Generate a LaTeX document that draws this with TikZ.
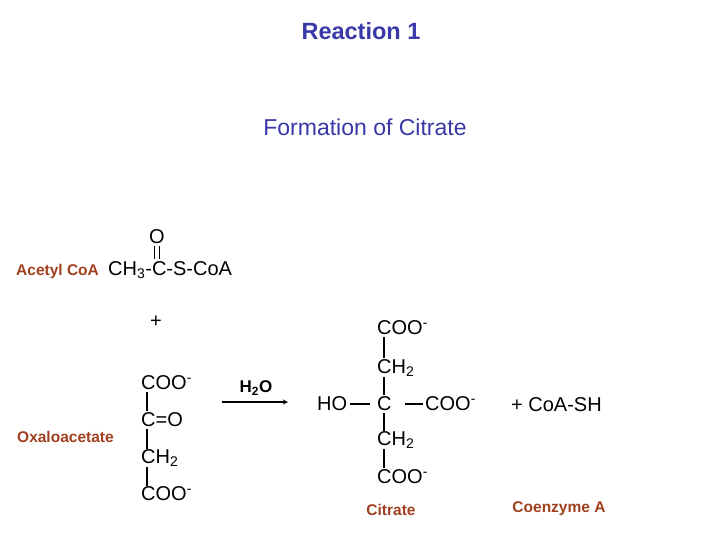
\documentclass[tikz,border=0pt]{standalone}
\usepackage{fontspec}
\setmainfont{Liberation Sans}
\definecolor{ttl}{HTML}{3838A8}
\definecolor{lbl}{HTML}{A0401E}
\begin{document}
\begin{tikzpicture}[x=1pt,y=-1pt,
  chem/.style={font=\fontsize{20}{22}\selectfont,inner sep=0pt,anchor=west},
  lab/.style={font=\fontsize{15.5}{17}\selectfont\bfseries,text=lbl,inner sep=0pt},
  bond/.style={line width=2.6pt}]
\useasboundingbox (0,0) rectangle (720,540);
\node[font=\fontsize{23.5}{26}\selectfont\bfseries,text=ttl] (t1) at (361,31) {Reaction 1};
\node[font=\fontsize{23}{26}\selectfont,text=ttl] (t2) at (365,127) {Formation of Citrate};
% acetyl CoA
\node[lab,anchor=west] (acl) at (16,271) {Acetyl CoA};
\node[chem] (ac) at (108,270) {CH\textsubscript{3}-C-S-CoA};
\node[chem,anchor=center] (o1) at (157,237) {O};
\draw[line width=1.8pt] (154.5,246) -- (154.5,259) (159.5,246) -- (159.5,259);
\node[chem,anchor=center] (plus) at (156,322) {+};
% oxaloacetate
\node[lab,anchor=west] (oxl) at (17,437) {Oxaloacetate};
\node[chem] (x1) at (141,383) {COO\textsuperscript{-}};
\node[chem] (x2) at (141,420) {C=O};
\node[chem] (x3) at (141,458) {CH\textsubscript{2}};
\node[chem] (x4) at (141,494) {COO\textsuperscript{-}};
\draw[bond] (147,392) -- (147,411) (147,429) -- (147,449) (147,467) -- (147,486);
% arrow
\node[font=\fontsize{17}{19}\selectfont\bfseries,inner sep=0pt] (w) at (256,388) {H\textsubscript{2}O};
\coordinate (a1) at (222,402); \coordinate (a2) at (288,402);
\draw[line width=1.3pt,-stealth] (a1) -- (a2);
% citrate
\node[chem] (c1) at (377,328) {COO\textsuperscript{-}};
\node[chem] (c2) at (377,368) {CH\textsubscript{2}};
\node[chem] (ho) at (317,404) {HO};
\node[chem] (cc) at (377,404) {C};
\node[chem] (c3) at (425,404) {COO\textsuperscript{-}};
\node[chem] (c4) at (377,440) {CH\textsubscript{2}};
\node[chem] (c5) at (377,477) {COO\textsuperscript{-}};
\draw[bond] (384,337) -- (384,358) (384,377) -- (384,395) (384,413) -- (384,431) (384,449) -- (384,468);
\draw[bond] (350,404) -- (370,404) (405,404) -- (423,404);
\node[chem] (csh) at (511,405) {+ CoA-SH};
\node[lab] (cit) at (391,510) {Citrate};
\node[lab] (coe) at (559,509) {Coenzyme A};
\end{tikzpicture}
\end{document}
